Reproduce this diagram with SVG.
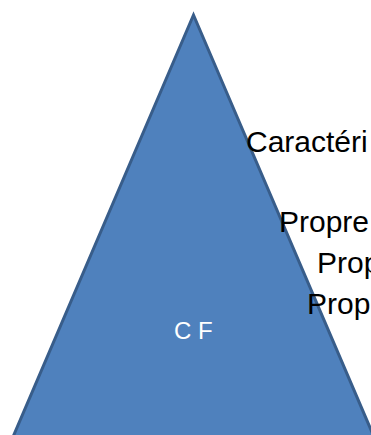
<svg xmlns="http://www.w3.org/2000/svg" width="371" height="435" viewBox="0 0 371 435">
<style>
.tri{fill:#4F81BD;stroke:#385D8A;stroke-width:3;stroke-linejoin:miter}
.lbl{font-family:"Liberation Sans",Arial,sans-serif;font-size:30px;fill:#000}
.in{font-family:"Liberation Sans",Arial,sans-serif;font-size:24px;fill:#fff}
</style>
<rect width="371" height="435" fill="#fff"/>
<g id="triangle">
<polygon class="tri" points="193.5,15 401,500 -14,500"/>
<text class="in" x="174" y="339">C F</text>
</g>
<g id="labels">
<text class="lbl" x="246" y="152">Caractéri</text>
<text class="lbl" x="279" y="232">Propre</text>
<text class="lbl" x="317" y="273">Prop</text>
<text class="lbl" x="307" y="314">Prop</text>
</g>
<g id="connectors"></g>
</svg>
